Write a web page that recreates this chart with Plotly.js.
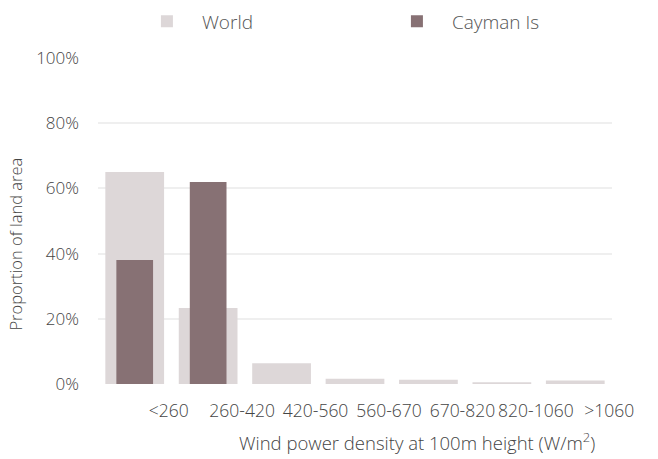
<!DOCTYPE html>
<html><head><meta charset="utf-8">
<script src="https://cdn.plot.ly/plotly-3.0.1.min.js"></script>
<style>html,body{margin:0;padding:0;background:#fff}#chart{width:658px;height:459px}</style>
</head><body><div id="chart"></div>
<script>
const categories = ["<260", "260-420", "420-560", "560-670", "670-820", "820-1060", ">1060"];
const worldValues = [65.0, 23.3, 6.4, 1.6, 1.3, 0.5, 1.1];
const caymanValues = [38.0, 62.0, 0, 0, 0, 0, 0];
const seriesNames = ["World", "Cayman Is"];
const yTickVals = [0, 20, 40, 60, 80, 100];
const xTitle = "Wind power density at 100m height (W/m<sup>2</sup>)";
const yTitle = "Proportion of land area";

const FONT = "Open Sans, Lato, sans-serif";
const TXT = "#444444";
const idx = categories.map((c, i) => i);

const traces = [
  {type: "bar", name: seriesNames[0], x: idx, y: worldValues, width: 0.8,
   marker: {color: "#ddd7d8"}, hoverinfo: "y"},
  {type: "bar", name: seriesNames[1], x: idx, y: caymanValues, width: 0.5,
   marker: {color: "#877174"}, hoverinfo: "y"}
];

const layout = {
  width: 658, height: 459,
  margin: {l: 98, r: 46, t: 58, b: 75},
  paper_bgcolor: "#fff", plot_bgcolor: "#fff",
  barmode: "overlay",
  font: {family: FONT, color: TXT, weight: 300},
  showlegend: true,
  legend: {orientation: "h", x: 0.066, xanchor: "left", yref: "container", y: 0.995, yanchor: "top",
           font: {size: 19, color: "#555555", family: FONT, weight: 300},
           itemwidth: 60, entrywidth: 175, entrywidthmode: "pixels", traceorder: "normal"},
  xaxis: {
    range: [-0.5, 6.5], tickmode: "array", tickvals: idx, ticktext: categories,
    showgrid: false, zeroline: false, showline: false, ticks: "",
    tickfont: {size: 17.5, color: TXT, family: FONT, weight: 300},
    ticklabelshift: 34, ticklabelstandoff: 14, fixedrange: true
  },
  yaxis: {
    range: [0, 100], tickmode: "array", tickvals: yTickVals,
    ticktext: yTickVals.map(v => v + "%"),
    showgrid: true, gridcolor: "#efefef", gridwidth: 2, zeroline: false, showline: false,
    ticks: "", tickfont: {size: 17, color: TXT, family: FONT, weight: 300},
    ticklabelstandoff: 18, fixedrange: true
  },
  annotations: [
    {text: xTitle, xref: "paper", yref: "paper", x: 0.62, y: -0.175, xanchor: "center", yanchor: "middle",
     showarrow: false, font: {size: 18.5, color: TXT, family: FONT, weight: 300}},
    {text: yTitle, xref: "paper", yref: "paper", x: -0.16, y: 0.43, xanchor: "center", yanchor: "middle",
     textangle: -90, showarrow: false, font: {size: 16.5, color: TXT, family: FONT, weight: 300}}
  ]
};

Plotly.newPlot("chart", traces, layout, {displayModeBar: false, staticPlot: true});
</script></body></html>
